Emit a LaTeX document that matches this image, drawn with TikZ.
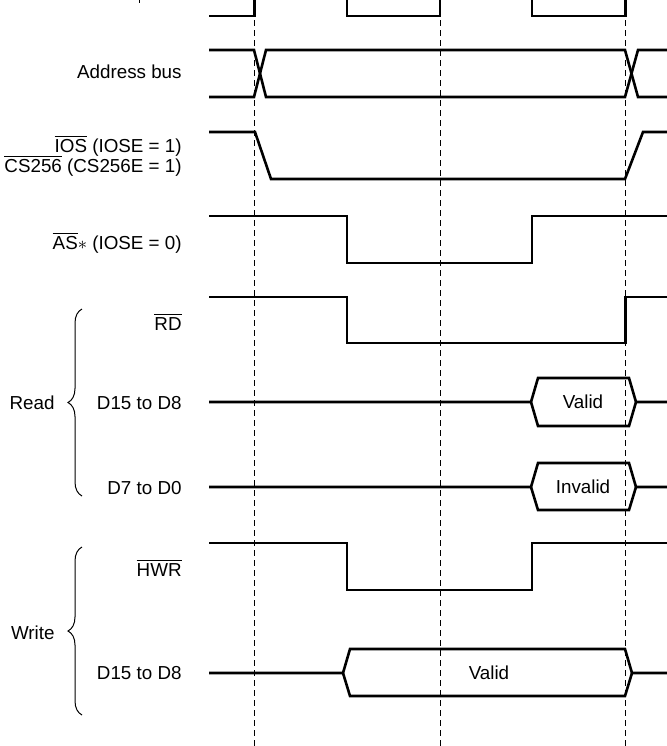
\documentclass[tikz,border=0pt]{standalone}
\usepackage{fontspec}
\setmainfont{Liberation Sans}
\usetikzlibrary{decorations.pathreplacing}
\newcommand{\ovl}[1]{$\overline{\mbox{#1}}$}
\begin{document}
\begin{tikzpicture}[x=0.5pt,y=-0.5pt,
  sig/.style={line width=1.3pt, line join=miter},
  guide/.style={line width=0.5pt, dash pattern=on 3pt off 2pt},
  lbl/.style={anchor=east, inner sep=0pt, font=\fontsize{9.4pt}{11pt}\selectfont},
  grp/.style={anchor=east, inner sep=0pt, font=\fontsize{9.4pt}{11pt}\selectfont},
  val/.style={inner sep=0pt, font=\fontsize{9.4pt}{11pt}\selectfont},
  brc/.style={line width=0.5pt, decorate, decoration={brace, amplitude=7pt}}]
\useasboundingbox (0,0) rectangle (667,746);
% guides
\foreach \gx in {254.5,440,625.5} \draw[guide] (\gx,0) -- (\gx,746);
% cropped fragment at top
\draw[line width=0.5pt] (139,0) -- (139,3);
% clock
\draw[sig] (209,16) -- (254.5,16) -- (254.5,0);
\draw[sig] (347,0) -- (347,16) -- (440,16) -- (440,0);
\draw[sig] (532,0) -- (532,16) -- (625.5,16) -- (625.5,0);
% address bus
\draw[sig] (209,50) -- (254,50) -- (266,97) -- (625,97) -- (638,50) -- (667,50);
\draw[sig] (209,97) -- (254,97) -- (266,50) -- (625,50) -- (638,97) -- (667,97);
\node[lbl] (addr) at (182,72) {Address bus};
% IOS
\draw[sig] (209,132) -- (255,132) -- (271,179) -- (625,179) -- (643,132) -- (667,132);
\node[lbl] (ios) at (182,146) {\ovl{IOS} (IOSE = 1)};
\node[lbl] (cs) at (182,166) {\ovl{CS256} (CS256E = 1)};
% AS
\draw[sig] (209,216) -- (347,216) -- (347,263) -- (532,263) -- (532,216) -- (667,216);
\node[lbl] (as) at (182,243) {\ovl{AS}$\ast$ (IOSE = 0)};
% RD
\draw[sig] (209,297) -- (347,297) -- (347,343) -- (625.5,343) -- (625.5,297) -- (667,297);
\node[lbl] (rd) at (182,322) {\ovl{RD}};
% D15 read
\draw[sig] (209,402) -- (531,402) -- (538,378) -- (629,378) -- (636,402) -- (667,402);
\draw[sig] (531,402) -- (538,426) -- (629,426) -- (636,402);
\node[val] (v1) at (583,402) {Valid};
\node[lbl] (d15r) at (182,403) {D15 to D8};
% D7 read
\draw[sig] (209,487) -- (531,487) -- (538,463) -- (629,463) -- (636,487) -- (667,487);
\draw[sig] (531,487) -- (538,510) -- (629,510) -- (636,487);
\node[val] (v2) at (583,487) {Invalid};
\node[lbl] (d7r) at (182,488) {D7 to D0};
% HWR
\draw[sig] (209,543) -- (347,543) -- (347,590) -- (532,590) -- (532,543) -- (667,543);
\node[lbl] (hwr) at (182,568) {\ovl{HWR}};
% D15 write
\draw[sig] (209,673) -- (343,673) -- (350,649) -- (625,649) -- (632,673) -- (667,673);
\draw[sig] (343,673) -- (350,696) -- (625,696) -- (632,673);
\node[val] (v3) at (489,673) {Valid};
\node[lbl] (d15w) at (182,673) {D15 to D8};
% groups
\draw[brc] (82,496) -- (82,309);
\node[grp] (read) at (55,403) {Read};
\draw[brc] (82,715) -- (82,547);
\node[grp] (write) at (55,633) {Write};
\end{tikzpicture}
\end{document}
